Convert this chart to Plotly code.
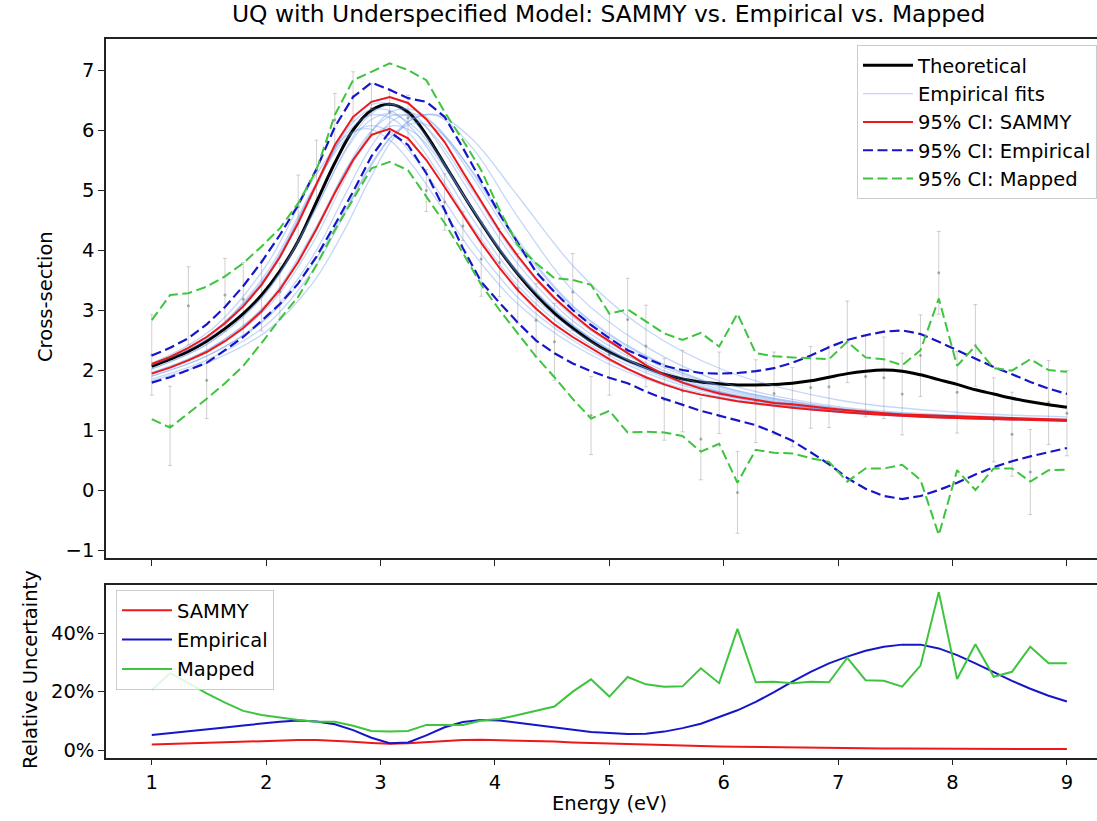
import plotly.graph_objects as go

# ---------------- data ----------------
energy = [round(1 + 0.16 * i, 2) for i in range(51)]

data_y = [2.25, 1.07, 3.07, 1.83, 3.25, 3.18, 3.24, 3.31, 4.72, 5.33,
          6.17, 6.56, 6.36, 6.30, 6.20, 4.99, 4.80, 4.40, 3.85, 3.79,
          3.36, 2.83, 2.47, 3.30, 1.24, 2.26, 2.84, 2.40, 1.51, 1.65,
          0.85, 1.62, -0.04, 1.48, 1.61, 1.38, 1.71, 1.72, 2.47, 1.89,
          1.87, 1.60, 2.24, 3.62, 1.63, 2.41, 1.17, 0.93, 0.30, 1.46, 1.28]
data_err = [0.67, 0.66, 0.65, 0.64, 0.61, 0.61, 0.59, 0.47, 0.53, 0.50,
            0.44, 0.41, 0.42, 0.38, 0.38, 0.35, 0.47, 0.24, 0.62, 0.57,
            0.58, 0.61, 0.64, 0.64, 0.65, 0.68, 0.69, 0.68, 0.68, 0.68,
            0.68, 0.68, 0.68, 0.69, 0.69, 0.66, 0.68, 0.68, 0.68, 0.67,
            0.68, 0.68, 0.68, 0.69, 0.68, 0.68, 0.70, 0.70, 0.71, 0.70, 0.71]

theory = [2.06, 2.18, 2.31, 2.48, 2.69, 2.94, 3.25, 3.65, 4.15, 4.80,
          5.45, 6.00, 6.33, 6.43, 6.30, 5.92, 5.43, 4.93, 4.45, 4.00,
          3.60, 3.25, 2.95, 2.70, 2.48, 2.30, 2.16, 2.04, 1.93, 1.85,
          1.80, 1.77, 1.75, 1.75, 1.76, 1.78, 1.82, 1.88, 1.94, 1.98,
          2.00, 1.98, 1.92, 1.84, 1.76, 1.67, 1.60, 1.53, 1.47, 1.42, 1.38]

sammy_hi = [2.10, 2.22, 2.37, 2.55, 2.78, 3.06, 3.42, 3.88, 4.45, 5.10,
            5.75, 6.22, 6.47, 6.55, 6.45, 6.18, 5.80, 5.30, 4.80, 4.32,
            3.90, 3.52, 3.20, 2.93, 2.68, 2.48, 2.28, 2.08, 1.92, 1.79,
            1.69, 1.61, 1.55, 1.50, 1.45, 1.43, 1.39, 1.36, 1.33, 1.30,
            1.28, 1.26, 1.25, 1.23, 1.22, 1.21, 1.20, 1.19, 1.18, 1.17, 1.17]
sammy_lo = [1.94, 2.04, 2.16, 2.30, 2.48, 2.70, 2.98, 3.34, 3.80, 4.35,
            4.95, 5.50, 5.92, 6.02, 5.86, 5.50, 5.05, 4.58, 4.12, 3.70,
            3.33, 3.02, 2.76, 2.55, 2.36, 2.18, 2.02, 1.88, 1.76, 1.66,
            1.59, 1.53, 1.48, 1.44, 1.40, 1.37, 1.34, 1.31, 1.29, 1.27,
            1.25, 1.24, 1.22, 1.21, 1.20, 1.19, 1.18, 1.17, 1.16, 1.15, 1.15]

emp_hi = [2.24, 2.37, 2.53, 2.76, 3.05, 3.40, 3.80, 4.25, 4.75, 5.35,
          6.05, 6.55, 6.79, 6.67, 6.53, 6.47, 6.22, 5.70, 5.15, 4.60,
          4.12, 3.63, 3.30, 3.00, 2.75, 2.53, 2.33, 2.20, 2.07, 2.00,
          1.95, 1.94, 1.95, 1.98, 2.03, 2.12, 2.24, 2.38, 2.50, 2.58,
          2.64, 2.66, 2.60, 2.47, 2.33, 2.20, 2.05, 1.93, 1.80, 1.69, 1.60]
emp_lo = [1.79, 1.88, 2.00, 2.12, 2.33, 2.55, 2.82, 3.10, 3.44, 3.89,
          4.42, 4.97, 5.56, 5.97, 5.75, 5.28, 4.67, 4.03, 3.47, 3.12,
          2.79, 2.49, 2.28, 2.11, 1.98, 1.87, 1.78, 1.64, 1.52, 1.42,
          1.32, 1.24, 1.16, 1.08, 0.96, 0.82, 0.63, 0.43, 0.20, 0.02,
          -0.10, -0.15, -0.10, 0.00, 0.12, 0.26, 0.38, 0.48, 0.56, 0.63, 0.70]

map_hi = [2.83, 3.25, 3.28, 3.39, 3.56, 3.78, 4.06, 4.36, 4.78, 5.33,
          6.25, 6.83, 6.97, 7.11, 7.00, 6.83, 6.30, 5.83, 5.33, 4.67,
          4.08, 3.78, 3.53, 3.50, 3.42, 2.94, 3.01, 2.81, 2.61, 2.50,
          2.62, 2.39, 2.94, 2.28, 2.23, 2.21, 2.19, 2.18, 2.47, 2.21,
          2.18, 2.08, 2.33, 3.19, 2.07, 2.40, 2.03, 1.99, 2.18, 2.00, 1.97]
map_lo = [1.18, 1.04, 1.28, 1.52, 1.78, 2.07, 2.45, 2.85, 3.22, 3.75,
          4.33, 4.85, 5.36, 5.47, 5.33, 4.89, 4.45, 3.95, 3.42, 3.00,
          2.60, 2.22, 1.88, 1.52, 1.19, 1.32, 0.96, 0.97, 0.96, 0.90,
          0.64, 0.77, 0.12, 0.67, 0.62, 0.61, 0.53, 0.47, 0.14, 0.36,
          0.36, 0.42, 0.17, -0.75, 0.33, 0.00, 0.36, 0.36, 0.14, 0.33, 0.34]

# empirical fits (read at coarse energies, drawn smoothed)
fit_energy = [1.0, 1.5, 2.0, 2.4, 2.7, 2.9, 3.1, 3.3, 3.5, 3.8, 4.2, 4.7, 5.3, 6.0, 7.0, 8.0, 9.0]
fit_01 = [2.02, 2.45, 3.30, 4.58, 5.67, 6.15, 6.27, 6.04, 5.58, 4.70, 3.62, 2.71, 2.05, 1.61, 1.32, 1.21, 1.16]
fit_02 = [2.09, 2.58, 3.56, 4.96, 5.94, 6.24, 6.19, 5.84, 5.30, 4.40, 3.40, 2.58, 1.97, 1.57, 1.31, 1.20, 1.16]
fit_03 = [1.95, 2.35, 3.08, 4.20, 5.35, 5.94, 6.24, 6.19, 5.84, 5.00, 3.86, 2.86, 2.14, 1.66, 1.34, 1.22, 1.17]
fit_04 = [1.90, 2.25, 2.88, 3.87, 4.96, 5.67, 6.15, 6.27, 6.04, 5.30, 4.12, 3.02, 2.24, 1.71, 1.36, 1.23, 1.17]
fit_05 = [1.82, 2.13, 2.64, 3.43, 4.39, 5.16, 5.83, 6.21, 6.23, 5.71, 4.55, 3.29, 2.41, 1.79, 1.39, 1.25, 1.18]
fit_06 = [2.08, 2.54, 3.52, 4.90, 6.02, 6.41, 6.43, 6.13, 5.62, 4.68, 3.60, 2.71, 2.04, 1.61, 1.31, 1.21, 1.16]
fit_07 = [1.96, 2.35, 3.10, 4.26, 5.34, 5.86, 6.07, 5.95, 5.53, 4.70, 3.64, 2.72, 2.05, 1.62, 1.33, 1.21, 1.16]
fit_08 = [1.94, 2.32, 3.02, 4.09, 5.23, 5.92, 6.31, 6.33, 6.03, 5.23, 4.05, 2.97, 2.20, 1.69, 1.35, 1.22, 1.16]
fit_09 = [2.09, 2.58, 3.61, 4.99, 5.86, 6.07, 5.95, 5.53, 4.99, 4.14, 3.21, 2.47, 1.90, 1.54, 1.30, 1.20, 1.16]
fit_10 = [2.02, 2.45, 3.29, 4.56, 5.70, 6.24, 6.43, 6.25, 5.79, 4.90, 3.77, 2.79, 2.10, 1.63, 1.33, 1.21, 1.16]
fit_11 = [1.85, 2.18, 2.75, 3.64, 4.65, 5.38, 5.90, 6.12, 5.99, 5.32, 4.17, 3.04, 2.26, 1.72, 1.37, 1.23, 1.17]
fit_12 = [2.09, 2.58, 3.56, 4.95, 5.99, 6.33, 6.31, 5.97, 5.44, 4.53, 3.49, 2.64, 2.01, 1.59, 1.31, 1.20, 1.16]
fit_13 = [1.90, 2.25, 2.85, 3.75, 4.70, 5.35, 5.90, 6.20, 6.25, 5.85, 4.90, 3.70, 2.70, 2.00, 1.50, 1.30, 1.22]
fit_14 = [2.11, 2.64, 3.74, 5.14, 5.90, 6.02, 5.80, 5.36, 4.81, 3.97, 3.10, 2.40, 1.86, 1.51, 1.30, 1.20, 1.16]
fits = [fit_01, fit_02, fit_03, fit_04, fit_05, fit_06, fit_07,
        fit_08, fit_09, fit_10, fit_11, fit_12, fit_13, fit_14]

# relative uncertainty (fraction)
rel_sammy = [0.019, 0.021, 0.023, 0.025, 0.027, 0.029, 0.031, 0.033, 0.034, 0.034,
             0.032, 0.028, 0.024, 0.021, 0.023, 0.027, 0.031, 0.034, 0.035, 0.034,
             0.033, 0.031, 0.029, 0.026, 0.024, 0.022, 0.020, 0.018, 0.016, 0.015,
             0.013, 0.012, 0.011, 0.010, 0.009, 0.008, 0.0075, 0.007, 0.006, 0.0055,
             0.005, 0.0048, 0.0045, 0.0042, 0.004, 0.0038, 0.0036, 0.0034, 0.0033, 0.0032, 0.003]
rel_emp = [0.051, 0.057, 0.063, 0.070, 0.077, 0.084, 0.091, 0.097, 0.101, 0.098,
           0.088, 0.068, 0.042, 0.023, 0.026, 0.050, 0.078, 0.096, 0.103, 0.101,
           0.093, 0.085, 0.077, 0.070, 0.062, 0.058, 0.055, 0.056, 0.063, 0.075,
           0.090, 0.113, 0.136, 0.165, 0.198, 0.234, 0.268, 0.297, 0.320, 0.340,
           0.354, 0.361, 0.361, 0.348, 0.325, 0.297, 0.267, 0.237, 0.210, 0.186, 0.166]
rel_map = [0.206, 0.263, 0.229, 0.194, 0.162, 0.134, 0.120, 0.111, 0.103, 0.097,
           0.097, 0.083, 0.065, 0.063, 0.065, 0.086, 0.086, 0.086, 0.101, 0.106,
           0.120, 0.134, 0.149, 0.200, 0.242, 0.183, 0.250, 0.225, 0.217, 0.218,
           0.280, 0.229, 0.415, 0.232, 0.234, 0.229, 0.234, 0.232, 0.316, 0.239,
           0.237, 0.217, 0.289, 0.541, 0.243, 0.362, 0.251, 0.268, 0.354, 0.297, 0.297]

# ---------------- styling ----------------
FONT = "DejaVu Sans"
RED = "rgb(236,24,28)"
BLUE = "rgb(22,22,200)"
GREEN = "rgb(62,196,62)"
FITC = "rgba(100,149,237,0.38)"
DASH = "10px,4.5px"
W, H = 1097, 821

fig = go.Figure()

# data points with error bars
fig.add_trace(go.Scatter(
    x=energy, y=data_y, mode="markers", showlegend=False,
    marker=dict(size=3, color="rgba(110,110,110,0.55)"),
    error_y=dict(type="data", array=data_err, color="rgba(150,150,150,0.45)",
                 thickness=1, width=2),
    xaxis="x", yaxis="y"))

fig.add_trace(go.Scatter(
    x=energy, y=theory, mode="lines", name="Theoretical",
    line=dict(color="black", width=3, shape="spline"),
    legend="legend", legendgroup="g1", legendrank=1, xaxis="x", yaxis="y"))

for k, f in enumerate(fits):
    fig.add_trace(go.Scatter(
        x=fit_energy, y=f, mode="lines", name="Empirical fits",
        line=dict(color=FITC, width=1.3, shape="spline"),
        showlegend=(k == 0), legend="legend", legendgroup="g2", legendrank=2,
        xaxis="x", yaxis="y"))

for k, (hi, lo, col, dash, nm, lw, grp, rk) in enumerate([
        (sammy_hi, sammy_lo, RED, "solid", "95% CI: SAMMY", 2, "g3", 3),
        (emp_hi, emp_lo, BLUE, DASH, "95% CI: Empirical", 2.2, "g4", 4),
        (map_hi, map_lo, GREEN, DASH, "95% CI: Mapped", 2, "g5", 5)]):
    fig.add_trace(go.Scatter(
        x=energy, y=hi, mode="lines", name=nm,
        line=dict(color=col, width=lw, dash=dash),
        legend="legend", legendgroup=grp, legendrank=rk, xaxis="x", yaxis="y"))
    fig.add_trace(go.Scatter(
        x=energy, y=lo, mode="lines", name=nm, showlegend=False,
        line=dict(color=col, width=lw, dash=dash),
        legend="legend", legendgroup=grp, xaxis="x", yaxis="y"))

# bottom panel
for series, col, nm, grp in [(rel_sammy, RED, "SAMMY", "h1"),
                             (rel_emp, BLUE, "Empirical", "h2"),
                             (rel_map, GREEN, "Mapped", "h3")]:
    fig.add_trace(go.Scatter(
        x=energy, y=series, mode="lines", name=nm,
        line=dict(color=col, width=2),
        legend="legend2", legendgroup=grp, xaxis="x2", yaxis="y2"))

axis_common = dict(showline=True, linecolor="#222222", linewidth=1.5,
                   ticks="outside", ticklen=6, tickwidth=1.3, tickcolor="#222222",
                   showgrid=False, zeroline=False,
                   tickfont=dict(family=FONT, size=19.5, color="black"))

top_y0, top_y1 = 1 - 558 / H, 1 - 38.5 / H
bot_y0, bot_y1 = 1 - 757.5 / H, 1 - 584.5 / H

fig.update_layout(
    width=W, height=H,
    margin=dict(l=106, r=0, t=0, b=0, autoexpand=False),
    paper_bgcolor="white", plot_bgcolor="white",
    font=dict(family=FONT, size=19.5, color="black"),
    xaxis=dict(domain=[0, 1], range=[0.6, 9.263], anchor="y", mirror=True,
               showticklabels=False, tickvals=list(range(1, 10)), **axis_common),
    yaxis=dict(domain=[top_y0, top_y1], range=[-1.133, 7.525], anchor="x",
               tickvals=list(range(-1, 8)), **axis_common),
    xaxis2=dict(domain=[0, 1], range=[0.6, 9.263], anchor="y2", mirror=True,
                tickvals=list(range(1, 10)), **axis_common),
    yaxis2=dict(domain=[bot_y0, bot_y1], range=[-0.0257, 0.567], anchor="x2",
                tickvals=[0, 0.2, 0.4], ticktext=["0%", "20%", "40%"], **axis_common),
    legend=dict(x=1.0, xanchor="right", y=1 - 45 / H, yanchor="top",
                bgcolor="rgba(255,255,255,0.85)", bordercolor="#cccccc", borderwidth=1,
                font=dict(family=FONT, size=19.5, color="black"),
                tracegroupgap=0, traceorder="grouped", itemwidth=50),
    legend2=dict(x=(116 - 106) / 991, xanchor="left", y=1 - 590 / H, yanchor="top",
                 bgcolor="rgba(255,255,255,0.85)", bordercolor="#cccccc", borderwidth=1,
                 font=dict(family=FONT, size=19.5, color="black"),
                 tracegroupgap=1, traceorder="grouped", itemwidth=50),
    showlegend=True,
    annotations=[
        dict(text="UQ with Underspecified Model: SAMMY vs. Empirical vs. Mapped",
             xref="paper", yref="paper", x=(608 - 106) / 991, y=1 - 14.5 / H,
             xanchor="center", yanchor="middle", showarrow=False,
             font=dict(family=FONT, size=23.4, color="black")),
        dict(text="Cross-section", xref="paper", yref="paper",
             x=(45 - 106) / 991, y=1 - 297 / H, textangle=-90,
             xanchor="center", yanchor="middle", showarrow=False,
             font=dict(family=FONT, size=19.5, color="black")),
        dict(text="Relative Uncertainty", xref="paper", yref="paper",
             x=(30 - 106) / 991, y=1 - 670 / H, textangle=-90,
             xanchor="center", yanchor="middle", showarrow=False,
             font=dict(family=FONT, size=19.5, color="black")),
        dict(text="Energy (eV)", xref="paper", yref="paper",
             x=(609 - 106) / 991, y=1 - 803 / H,
             xanchor="center", yanchor="middle", showarrow=False,
             font=dict(family=FONT, size=19.5, color="black")),
    ],
)

fig.write_html("out.html")
